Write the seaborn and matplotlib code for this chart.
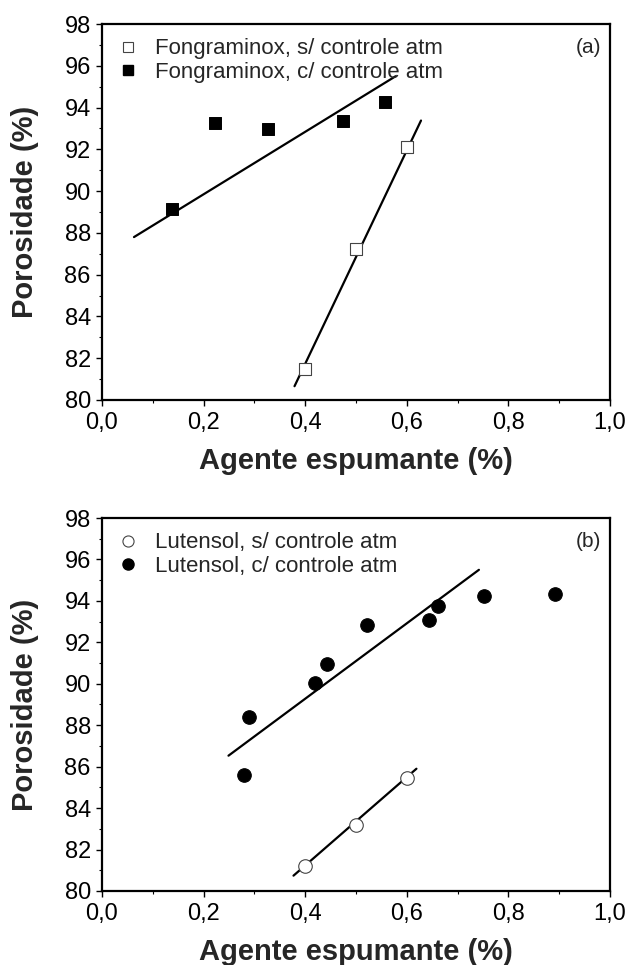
import numpy as np
import pandas as pd
import matplotlib
matplotlib.use("Agg")
import matplotlib.pyplot as plt
import matplotlib.ticker as mticker
from matplotlib.lines import Line2D
import seaborn as sns

# ---------------------------------------------------------------------------
# Data
# ---------------------------------------------------------------------------
# (a) Fongraminox
fong_s_x = [0.40, 0.50, 0.60]
fong_s_y = [81.46, 87.25, 92.1]
fong_s_fit_x = [0.379, 0.628]
fong_s_fit_y = [80.66, 93.38]

fong_c_x = [0.137, 0.222, 0.327, 0.475, 0.558]
fong_c_y = [89.15, 93.26, 92.97, 93.36, 94.26]
fong_c_fit_x = [0.063, 0.578]
fong_c_fit_y = [87.8, 95.5]

# (b) Lutensol
lut_s_x = [0.40, 0.50, 0.60]
lut_s_y = [81.2, 83.2, 85.47]
lut_s_fit_x = [0.377, 0.619]
lut_s_fit_y = [80.74, 85.9]

lut_c_x = [0.28, 0.29, 0.42, 0.443, 0.522, 0.643, 0.662, 0.752, 0.892]
lut_c_y = [85.62, 88.38, 90.02, 90.95, 92.82, 93.08, 93.77, 94.25, 94.33]
lut_c_fit_x = [0.249, 0.742]
lut_c_fit_y = [86.53, 95.5]

LABEL_S_A = "Fongraminox, s/ controle atm"
LABEL_C_A = "Fongraminox, c/ controle atm"
LABEL_S_B = "Lutensol, s/ controle atm"
LABEL_C_B = "Lutensol, c/ controle atm"

# ---------------------------------------------------------------------------
# Style
# ---------------------------------------------------------------------------
sns.set_style("white")
plt.rcParams.update({
    "font.family": ["Liberation Sans", "DejaVu Sans"],
    "axes.linewidth": 1.6,
    "xtick.major.width": 1.0,
    "ytick.major.width": 1.0,
    "xtick.minor.width": 0.8,
    "ytick.minor.width": 0.8,
    "xtick.major.size": 4,
    "ytick.major.size": 4,
    "xtick.minor.size": 2.5,
    "ytick.minor.size": 2.5,
    "xtick.direction": "out",
    "ytick.direction": "out",
})

fig = plt.figure(figsize=(6.35, 9.65), dpi=100)
ax_a = fig.add_axes([0.1606, 0.5855, 0.80, 0.3896])
ax_b = fig.add_axes([0.1606, 0.0767, 0.80, 0.3865])


def comma(x, _):
    return f"{x:.1f}".replace(".", ",")


def style_axes(ax, tag):
    ax.set_xlim(0.0, 1.0)
    ax.set_ylim(80, 98)
    ax.xaxis.set_major_locator(mticker.MultipleLocator(0.2))
    ax.xaxis.set_minor_locator(mticker.MultipleLocator(0.1))
    ax.yaxis.set_major_locator(mticker.MultipleLocator(2))
    ax.yaxis.set_minor_locator(mticker.MultipleLocator(1))
    ax.xaxis.set_major_formatter(mticker.FuncFormatter(comma))
    ax.tick_params(axis="both", which="both", bottom=True, left=True,
                   top=False, right=False, colors="black", labelsize=17)
    ax.tick_params(axis="x", which="major", pad=5)
    ax.tick_params(axis="y", which="major", pad=4)
    for sp in ax.spines.values():
        sp.set_visible(True)
        sp.set_color("black")
    ax.set_xlabel("Agente espumante (%)", fontsize=21, fontweight="bold",
                  labelpad=9)
    ax.set_ylabel("Porosidade (%)", fontsize=21, fontweight="bold",
                  labelpad=18)
    ax.text(0.982, 0.962, tag, transform=ax.transAxes, ha="right", va="top",
            fontsize=15)


def fit_line(ax, xs, ys):
    sns.lineplot(x=xs, y=ys, ax=ax, color="black", linewidth=1.6,
                 sort=False, estimator=None, legend=False)


def legend(ax, marker, lab_s, lab_c, ms):
    handles = [
        Line2D([], [], linestyle="none", marker=marker, markersize=ms,
               markerfacecolor="white", markeredgecolor="#444444",
               markeredgewidth=0.8, label=lab_s),
        Line2D([], [], linestyle="none", marker=marker, markersize=ms,
               markerfacecolor="black", markeredgecolor="black",
               label=lab_c),
    ]
    ax.legend(handles=handles, loc="upper left", frameon=False,
              fontsize=16, handlelength=1.0, handletextpad=0.75,
              borderaxespad=0.3, labelspacing=0.12, borderpad=0.35)


# (a)
fit_line(ax_a, fong_s_fit_x, fong_s_fit_y)
fit_line(ax_a, fong_c_fit_x, fong_c_fit_y)
sns.scatterplot(x=fong_s_x, y=fong_s_y, ax=ax_a, marker="s", s=75,
                facecolor="white", edgecolor="#444444", linewidth=0.8,
                zorder=3)
sns.scatterplot(x=fong_c_x, y=fong_c_y, ax=ax_a, marker="s", s=75,
                color="black", edgecolor="black", zorder=3)
style_axes(ax_a, "(a)")
legend(ax_a, "s", LABEL_S_A, LABEL_C_A, 7)

# (b)
fit_line(ax_b, lut_s_fit_x, lut_s_fit_y)
fit_line(ax_b, lut_c_fit_x, lut_c_fit_y)
sns.scatterplot(x=lut_s_x, y=lut_s_y, ax=ax_b, marker="o", s=95,
                facecolor="white", edgecolor="#444444", linewidth=0.8,
                zorder=3)
sns.scatterplot(x=lut_c_x, y=lut_c_y, ax=ax_b, marker="o", s=95,
                color="black", edgecolor="black", zorder=3)
style_axes(ax_b, "(b)")
legend(ax_b, "o", LABEL_S_B, LABEL_C_B, 8)

fig.savefig("out.png", dpi=100)
